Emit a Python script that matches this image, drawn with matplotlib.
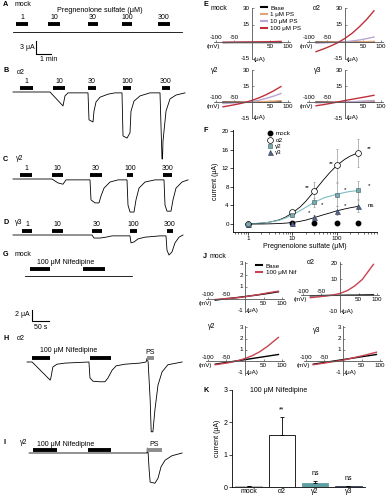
import numpy as np
import matplotlib.pyplot as plt
from matplotlib.lines import Line2D
from matplotlib.ticker import NullFormatter

plt.rcParams['font.family'] = ['Liberation Sans', 'DejaVu Sans']
plt.rcParams['font.size'] = 4.5
plt.rcParams['axes.linewidth'] = 0.6

# ---------------- A-D: pregnenolone sulfate (PS) traces, time (s) / current (uA)
conc_labels = ['1', '10', '30', '100', '300']

mock_t = [0, 676]
mock_i = [0, 0]
ps_on_mock = [12, 140, 300, 436, 580]
ps_off_mock = [60, 188, 340, 476, 628]

a2_t = [0, 148, 200, 208, 220, 300, 304, 320, 324, 332, 348, 380, 408, 436, 440, 456,
        468, 472, 484, 508, 548, 588, 596, 598, 600, 612, 628, 652, 688]
a2_i = [0, 0, -3.2, -0.9, -0.2, -0.2, -6.4, -6.9, -4.4, -2.3, -1.2, -0.5, -0.2, -0.2, -10.1, -10.6,
        -9.4, -4.4, -2.1, -0.9, -0.2, -0.2, -15.4, -15.4, -11.3, -4.4, -1.6, -0.7, -0.2]
ps_on_a2 = [28, 160, 300, 440, 596]
ps_off_a2 = [80, 208, 332, 472, 628]

g2_t = [0, 156, 180, 200, 212, 308, 312, 328, 344, 352, 364, 388, 420, 456, 460, 468, 484,
        492, 504, 528, 568, 604, 608, 616, 632, 640, 652, 676, 700]
g2_i = [0, 0, -0.9, -1.2, -0.2, -0.2, -4.8, -5.5, -5.5, -3.9, -2.1, -0.7, -0.2, -0.2, -6.0, -7.6, -7.6,
        -4.8, -2.1, -0.7, -0.2, -0.2, -6.0, -7.4, -7.4, -4.8, -2.1, -0.7, -0.2]
ps_on_g2 = [28, 156, 308, 456, 600]
ps_off_g2 = [76, 200, 356, 480, 636]

g3_t = [0, 316, 324, 348, 372, 396, 468, 472, 484, 500, 528, 588, 612, 616, 624, 636, 648, 664, 680]
g3_i = [0, 0, -0.7, -0.7, -0.5, -0.2, -0.2, -1.8, -1.6, -0.9, -0.5, -0.2, -0.2, -3.5, -4.6, -3.9,
        -1.8, -0.5, 0]
ps_on_g3 = [36, 156, 316, 468, 616]
ps_off_g3 = [76, 200, 356, 496, 640]

# ---------------- G-I: nifedipine traces
nif_mock_t = [0, 315]
nif_mock_i = [0, 0]
nif_on_mock = [14.7, 170.5]
nif_off_mock = [73.5, 235.2]

nif_a2_t = [6, 21, 74, 76, 82, 94, 118, 188, 191, 200, 221, 235, 244, 256, 268, 294, 338,
            356, 359, 362, 368, 371, 376, 382, 391, 403, 420, 462]
nif_a2_i = [0, 0, -3.3, -2.9, -0.9, -0.4, -0.2, 0, -2.9, -3.5, -3.6, -3.6, -2.9, -1.5, -0.7, -0.4,
            -0.2, 0, 0.7, 0, -6.9, -12.7, -12.7, -8.7, -4.2, -1.8, -0.5, 0]
nif_on_a2 = [20.6, 191]
nif_off_a2 = [73.5, 253]
ps_a2 = [358.7, 379.3]

nif_g2_t = [12, 359, 359.5, 362, 365, 368, 382, 391, 400, 412, 432, 462]
nif_g2_i = [0, 0, 0.9, 0, -3.1, -5.3, -5.5, -4.6, -2.5, -1.3, -0.5, 0]
nif_on_g2 = [23.5, 185]
nif_off_g2 = [94, 253]
ps_g2 = [358.7, 402.8]

# ---------------- E: I-V curves with PS (mV / uA)
iv_v = [-80, -60, -40, -20, 0, 20, 40, 60, 80]
e_mock_base = [0, 0, 0, 0, 0, 0, 0, 0, 0]
e_mock_ps1 = [-0.3, -0.2, -0.2, -0.1, 0, 0.1, 0.2, 0.3, 0.5]
e_mock_ps10 = [-0.3, -0.2, -0.1, -0.1, 0, 0.1, 0.2, 0.3, 0.4]
e_mock_ps100 = [-0.4, -0.3, -0.2, -0.1, 0, 0.1, 0.2, 0.3, 0.4]
e_a2_base = [0, 0, 0, 0, 0, 0, 0, 0, 0.1]
e_a2_ps1 = [-0.2, -0.1, 0, 0, 0, 0.1, 0.2, 0.3, 0.5]
e_a2_ps10 = [-1.0, -0.8, -0.5, -0.2, 0.2, 0.9, 1.8, 3.0, 4.4]
e_a2_ps100 = [-8.5, -6.2, -3.6, -0.6, 3.2, 7.8, 13.5, 20.0, 27.5]
e_g2_base = [0, 0, 0, 0, 0, 0, 0, 0, 0.1]
e_g2_ps1 = [-0.3, -0.2, -0.1, 0, 0.1, 0.3, 0.5, 0.8, 1.2]
e_g2_ps10 = [-1.5, -1.1, -0.7, -0.3, 0.3, 1.7, 3.5, 5.5, 8.0]
e_g2_ps100 = [-4.5, -3.3, -2.0, -0.5, 1.5, 4.0, 7.0, 10.5, 14.5]
e_g3_base = [0, 0, 0, 0, 0, 0, 0, 0, 0.1]
e_g3_ps1 = [-0.3, -0.2, -0.1, 0, 0.1, 0.2, 0.4, 0.6, 0.9]
e_g3_ps10 = [-0.8, -0.6, -0.4, -0.1, 0.1, 0.3, 0.6, 1.0, 1.4]
e_g3_ps100 = [-3.5, -2.5, -1.3, 0, 1.4, 2.6, 3.8, 5.0, 6.3]

# ---------------- F: dose-response (uM / uA)
conc = [1, 10, 30, 100, 300]
f_mock = [0.1, 0.2, 0.2, 0.2, 0.2]
f_a2 = [0.1, 2.5, 7.0, 12.6, 15.3]
f_a2_err = [0.1, 0.5, 2.0, 3.5, 3.0]
f_g2 = [0.1, 2.0, 4.7, 6.3, 7.3]
f_g2_err = [0.1, 0.4, 1.0, 2.5, 2.0]
f_g3 = [0.1, 0.3, 1.5, 2.9, 3.9]
f_g3_err = [0.05, 0.2, 0.5, 1.0, 1.3]
fit_x = [1, 2, 3, 5, 7, 10, 15, 20, 30, 50, 70, 100, 150, 200, 300]
fit_a2 = [0.05, 0.2, 0.4, 0.9, 1.5, 2.4, 3.7, 4.9, 6.9, 9.5, 11.1, 12.6, 13.9, 14.6, 15.3]
fit_g2 = [0.05, 0.2, 0.4, 0.8, 1.3, 2.0, 2.9, 3.6, 4.6, 5.6, 6.0, 6.4, 6.8, 7.0, 7.2]
fit_g3 = [0, 0.02, 0.05, 0.12, 0.2, 0.35, 0.6, 0.85, 1.35, 2.0, 2.4, 2.85, 3.25, 3.5, 3.8]
sig_a2 = ['', '', '**', '**', '**']
sig_g2 = ['', '', '*', '*', '*']
sig_g3 = ['', '', '*', '*', 'ns']

# ---------------- J: I-V curves with 100 uM nifedipine
ivj_v = [-80, -60, -40, -20, 0, 20, 40, 60, 90]
j_mock_base = [-0.1, -0.02, 0.05, 0.12, 0.2, 0.28, 0.36, 0.45, 0.6]
j_mock_nif = [-0.05, 0, 0.05, 0.1, 0.18, 0.28, 0.38, 0.5, 0.65]
j_a2_base = [-0.3, -0.2, -0.1, 0, 0, 0.1, 0.1, 0.2, 0.3]
j_a2_nif = [-1.5, -1.0, -0.5, 0.2, 1.2, 3.0, 6.0, 10.0, 19.5]
j_g2_base = [-0.25, -0.15, -0.05, 0.05, 0.15, 0.25, 0.35, 0.45, 0.6]
j_g2_nif = [-0.3, -0.2, -0.1, 0.05, 0.25, 0.5, 0.85, 1.3, 2.1]
j_g3_base = [-0.25, -0.15, -0.05, 0.05, 0.15, 0.25, 0.35, 0.45, 0.6]
j_g3_nif = [-0.3, -0.2, -0.1, 0, 0.1, 0.25, 0.4, 0.55, 0.8]

# ---------------- K: nifedipine currents
k_groups = ['mock', 'α2', 'γ2', 'γ3']
k_mean = [0.02, 1.62, 0.13, 0.03]
k_err = [0, 0.55, 0.06, 0]
k_sig = ['', '**', 'ns', 'ns']

W, H = 390, 500
fig = plt.figure(figsize=(3.9, 5.0), dpi=100)


def region(x0, y0, x1, y1):
    # axes placed by pixel box (y measured from the top)
    return fig.add_axes([x0 / W, 1 - y1 / H, (x1 - x0) / W, (y1 - y0) / H])


def label(x, y, s, **kw):
    kw.setdefault('va', 'center')
    kw.setdefault('ha', 'left')
    fig.text(x / W, 1 - y / H, s, **kw)


def trace_axes(top, bottom, base, t0_px, s_px, ua_px):
    ax = region(0, top, 200, bottom)
    ax.set_xlim(-t0_px * s_px, (200 - t0_px) * s_px)
    ax.set_ylim((base - bottom) * ua_px, (base - top) * ua_px)
    ax.axis('off')
    ax.patch.set_alpha(0)
    return ax


def trace(ax, t, i, on, off, bar_px, ua_px, names=None, color='k'):
    ax.plot(t, i, color='k', lw=0.6, clip_on=False)
    ax.hlines([bar_px * ua_px] * len(on), on, off, color=color, lw=2.8, clip_on=False)
    if names:
        for a, b, s in zip(on, off, names):
            ax.text((a + b) / 2, (bar_px + 3) * ua_px, s, ha='center', va='bottom', fontsize=5)


# ---- A-D
S1, U1 = 4.0, 0.23
axA = trace_axes(0, 62, 32, 13, S1, U1)
trace(axA, mock_t, mock_i, ps_on_mock, ps_off_mock, 8, U1, conc_labels)
axA.plot([92, 92, 152], [-2.0, -5.0, -5.0], color='k', lw=0.8, clip_on=False)
axA.text(88, -3.5, '3 μA', ha='right', va='center', fontsize=5)
axA.text(110, -5.6, '1 min', ha='left', va='top', fontsize=5)
label(100, 11, 'Pregnenolone sulfate (μM)', ha='center', fontsize=5.2)

axB = trace_axes(62, 165, 92, 13, S1, U1)
trace(axB, a2_t, a2_i, ps_on_a2, ps_off_a2, 4, U1, conc_labels)
axC = trace_axes(165, 220, 179, 13, S1, U1)
trace(axC, g2_t, g2_i, ps_on_g2, ps_off_g2, 4, U1, conc_labels)
axD = trace_axes(220, 262, 235, 13, S1, U1)
trace(axD, g3_t, g3_i, ps_on_g3, ps_off_g3, 4, U1, conc_labels)

# ---- G-I
S2, U2 = 2.94, 0.182
axG = trace_axes(245, 300, 276, 25, S2, U2)
trace(axG, nif_mock_t, nif_mock_i, nif_on_mock, nif_off_mock, 7, U2)
axG.text(35, 14 * U2, '100 μM Nifedipine', ha='left', va='center', fontsize=5)
axG.plot([20.6, 20.6, 70.6], [-6.19, -8.19, -8.19], color='k', lw=0.8, clip_on=False)
axG.text(15, -7.0, '2 μA', ha='right', va='center', fontsize=5)
axG.text(45.6, -8.7, '50 s', ha='center', va='top', fontsize=5)

axH = trace_axes(330, 440, 362, 25, S2, U2)
trace(axH, nif_a2_t, nif_a2_i, nif_on_a2, nif_off_a2, 4, U2)
axH.hlines(4 * U2, ps_a2[0], ps_a2[1], color='#8c8c8c', lw=2.8)
axH.text(44, 12 * U2, '100 μM Nifedipine', ha='left', va='center', fontsize=5)
axH.text(np.mean(ps_a2), 10 * U2, 'PS', ha='center', va='center', fontsize=5)

axI = trace_axes(435, 500, 453, 25, S2, U2)
trace(axI, nif_g2_t, nif_g2_i, nif_on_g2, nif_off_g2, 3, U2)
axI.hlines(3 * U2, ps_g2[0], ps_g2[1], color='#8c8c8c', lw=2.8)
axI.text(35, 9 * U2, '100 μM Nifedipine', ha='left', va='center', fontsize=5)
axI.text(np.mean(ps_g2), 9 * U2, 'PS', ha='center', va='center', fontsize=5)

for x, y, s in [(3, 5, 'A'), (3, 71, 'B'), (3, 159, 'C'), (3, 223, 'D'), (3, 254, 'G'),
                (3, 338, 'H'), (3, 443, 'I'), (203, 5, 'E'), (203, 131, 'F'), (203, 256, 'J'),
                (203, 391, 'K')]:
    label(x, y, s, fontweight='bold', fontsize=5.2)
for x, y, s in [(15, 5, 'mock'), (17, 72, 'α2'), (16, 158, 'γ2'), (15, 222, 'γ3'),
                (15, 255, 'mock'), (17, 338, 'α2'), (20, 442, 'γ2')]:
    label(x, y, s, fontsize=5)


# ---- I-V panels
def iv_panel(box, ylim, yticks, ylabels, name_xy, name):
    ax = region(*box)
    ax.set_xlim(-105, 105)
    ax.set_ylim(*ylim)
    ax.patch.set_alpha(0)
    for s in ('top', 'right'):
        ax.spines[s].set_visible(False)
    for s in ('left', 'bottom'):
        ax.spines[s].set_position(('data', 0))
        ax.spines[s].set_color('#555555')
        ax.spines[s].set_linewidth(0.6)
    ax.set_xticks([-100, -50, 50, 100])
    ax.set_yticks(yticks)
    ax.tick_params(length=1.5, width=0.5, color='#555555', direction='in',
                   labelbottom=False, labelleft=False)
    kw = dict(textcoords='offset points', fontsize=4.5)
    for v in (-100, -50):
        ax.annotate(f'{v}', (v, 0), xytext=(0, 1.2), ha='center', va='bottom', **kw)
    for v in (50, 100):
        ax.annotate(f'{v}', (v, 0), xytext=(0, -1.2), ha='center', va='top', **kw)
    ax.annotate('(mV)', (-106, 0), xytext=(0, -1.2), ha='center', va='top', **kw)
    for v, s in zip(yticks, ylabels):
        ax.annotate(s, (0, v), xytext=(-1.5, 0), ha='right', va='center', **kw)
    ax.annotate('(μA)', (0, yticks[-1]), xytext=(1.2, 0), ha='left', va='center', **kw)
    label(name_xy[0], name_xy[1], name, fontsize=5)
    return ax


e_colors = ['black', '#e3a374', '#b9a6d2', '#c0303a']
e_names = ['Base', '1 μM PS', '10 μM PS', '100 μM PS']
e_sets = [(e_mock_base, e_mock_ps1, e_mock_ps10, e_mock_ps100),
          (e_a2_base, e_a2_ps1, e_a2_ps10, e_a2_ps100),
          (e_g2_base, e_g2_ps1, e_g2_ps10, e_g2_ps100),
          (e_g3_base, e_g3_ps1, e_g3_ps10, e_g3_ps100)]
e_boxes = [(214, 8, 290, 59), (307, 8, 383, 59), (214, 70, 290, 118), (307, 70, 383, 118)]
e_label_xy = [(211, 9), (313, 9), (211, 71), (314, 71)]
for box, curves, nxy, nm in zip(e_boxes, e_sets, e_label_xy, ['mock', 'α2', 'γ2', 'γ3']):
    ax = iv_panel(box, (-15, 30), [30, 15, -15], ['30', '15', '-15'], nxy, nm)
    for c, col in zip(curves, e_colors):
        ax.plot(iv_v, c, color=col, lw=1.0)
fig.legend([Line2D([], [], color=c, lw=1.5) for c in e_colors], e_names,
           loc='upper left', bbox_to_anchor=(258 / W, 1 - 2 / H), frameon=False,
           fontsize=4.5, handlelength=1.0, handletextpad=0.5, labelspacing=0.25, borderpad=0)

j_colors = ['black', '#c8424f']
j_sets = [(j_mock_base, j_mock_nif), (j_a2_base, j_a2_nif),
          (j_g2_base, j_g2_nif), (j_g3_base, j_g3_nif)]
j_boxes = [(206, 262, 284, 312), (301, 262, 379, 312), (206, 326, 284, 375), (304, 326, 382, 375)]
j_ylims = [(-1.1, 3.1), (-10.5, 21), (-1.2, 3.1), (-1.2, 3.1)]
j_ticks = [[3, 2, 1, -1], [20, 10, -10], [3, 2, 1, -1], [3, 2, 1, -1]]
j_label_xy = [(210, 256), (307, 263), (208, 327), (313, 330)]
for box, curves, yl, tk, nxy, nm in zip(j_boxes, j_sets, j_ylims, j_ticks, j_label_xy,
                                         ['mock', 'α2', 'γ2', 'γ3']):
    ax = iv_panel(box, yl, tk, [str(t) for t in tk], nxy, nm)
    for c, col in zip(curves, j_colors):
        ax.plot(ivj_v, c, color=col, lw=1.0)
fig.legend([Line2D([], [], color=c, lw=1.5) for c in j_colors], ['Base', '100 μM Nif'],
           loc='upper left', bbox_to_anchor=(253 / W, 1 - 260 / H), frameon=False,
           fontsize=4.5, handlelength=1.0, handletextpad=0.5, labelspacing=0.25, borderpad=0)

# ---- F dose-response
axF = region(233, 130, 377, 232)
axF.set_xscale('log')
axF.set_xlim(0.46, 800)
axF.set_ylim(-1.7, 20.2)
for s in ('top', 'right'):
    axF.spines[s].set_visible(False)
axF.set_xticks([1, 10, 100])
axF.set_xticklabels(['1', '10', '100'])
axF.xaxis.set_minor_formatter(NullFormatter())
axF.set_yticks([0, 4, 8, 12, 16, 20])
axF.tick_params(labelsize=4.5, length=2, width=0.5, pad=1)
axF.tick_params(which='minor', length=1.2, width=0.4)
axF.set_xlabel('Pregnenolone sulfate (μM)', fontsize=5, labelpad=1)
axF.set_ylabel('current (μA)', fontsize=5, labelpad=2)

g2_fill, g2_line = '#79aab0', '#7dbcc0'
g3_fill = '#56648a'
axF.plot(fit_x, fit_a2, color='k', lw=0.6)
axF.plot(fit_x, fit_g2, color=g2_line, lw=0.8)
axF.plot(fit_x, fit_g3, color='k', lw=0.6)
for y, e in [(f_a2, f_a2_err), (f_g2, f_g2_err), (f_g3, f_g3_err)]:
    axF.errorbar(conc, y, yerr=e, fmt='none', ecolor='#9a9a9a', elinewidth=0.5, capsize=0.8,
                 capthick=0.5)
axF.plot(conc, f_mock, 'o', color='k', ms=3.2, label='mock')
axF.plot(conc, f_a2, 'o', mfc='white', mec='k', mew=0.5, ms=4.2, label='α2')
axF.plot(conc, f_g3, '^', mfc=g3_fill, mec='#2c3550', mew=0.4, ms=3.6, label='γ3')
axF.plot(conc, f_g2, 's', mfc=g2_fill, mec='#3c5a60', mew=0.4, ms=3.4, label='γ2')
h, l = axF.get_legend_handles_labels()
order = [l.index(n) for n in ['mock', 'α2', 'γ2', 'γ3']]
axF.legend([h[k] for k in order], [l[k] for k in order], loc='upper left',
           bbox_to_anchor=(0.22, 1.02), frameon=False, fontsize=4.5, handlelength=0.8,
           handletextpad=0.4, labelspacing=0.15, borderpad=0)
offs = {'a2': [(-4.5, 2.5), (-4, 1.5), (8, 3)], 'g2': [(6, -2), (6, 4), (8, 3)],
        'g3': [(-3, 3), (6, 3.5), (9, 0.5)]}
for key, ys, sig in [('a2', f_a2, sig_a2), ('g2', f_g2, sig_g2), ('g3', f_g3, sig_g3)]:
    for k in range(2, 5):
        axF.annotate(sig[k], (conc[k], ys[k]), xytext=offs[key][k - 2], textcoords='offset points',
                     ha='center', va='center', fontsize=4.5)

# ---- K bars
axK = region(232, 390, 365, 487)
xk = np.arange(len(k_groups))
k_face = ['#b8b8b8', 'white', '#5e9fa6', '#34415f']
k_edge = ['#b8b8b8', 'black', '#5e9fa6', '#34415f']
axK.bar(xk, k_mean, width=0.8, color=k_face, edgecolor=k_edge, linewidth=0.6)
axK.errorbar(xk, k_mean, yerr=[[0] * 4, k_err], fmt='none', ecolor='k', elinewidth=0.6,
             capsize=1.5, capthick=0.6)
for x, m, e, s in zip(xk, k_mean, k_err, k_sig):
    axK.text(x, m + e + 0.12, s, ha='center', va='bottom', fontsize=5)
axK.set_xlim(-0.5, 3.5)
axK.set_ylim(0, 3)
axK.set_yticks([0, 1, 2, 3])
axK.set_xticks(xk)
axK.set_xticklabels(k_groups)
axK.tick_params(labelsize=5, length=2, width=0.5, pad=1)
axK.tick_params(axis='x', length=0)
for s in ('top', 'right'):
    axK.spines[s].set_visible(False)
axK.set_ylabel('current (μA)', fontsize=5, labelpad=2)
axK.text(0.05, 3, '100 μM Nifedipine', ha='left', va='center', fontsize=5)

fig.savefig('out.png', dpi=100)
